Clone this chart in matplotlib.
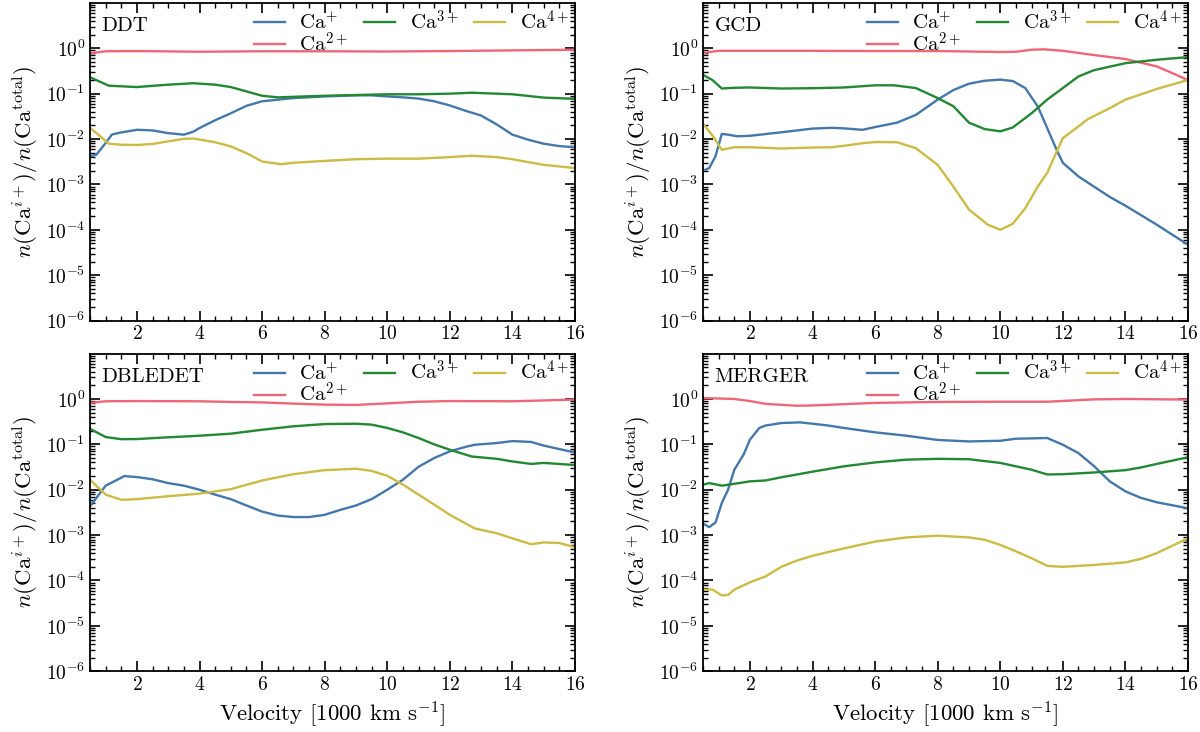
import numpy as np
import matplotlib
matplotlib.use("Agg")
import matplotlib.pyplot as plt
from matplotlib.ticker import LogLocator, MultipleLocator, NullFormatter

plt.rcParams['font.family'] = 'serif'
plt.rcParams['font.serif'] = ['cmr10']
plt.rcParams['mathtext.fontset'] = 'cm'
plt.rcParams['axes.formatter.use_mathtext'] = True
plt.rcParams['axes.linewidth'] = 1.3

# velocity grid [1000 km/s] for each model and ion
# DDT
ddt_v1 = [0.5, 0.7, 1.0, 1.2, 1.5, 2.0, 2.5, 3.0, 3.5, 3.8, 4.0, 4.5, 5.0, 5.5, 6.0, 7.0, 8.0, 9.0, 9.5, 10.0, 10.5, 11.0, 11.5, 12.0, 12.5, 13.0, 13.5, 14.0, 14.5, 15.0, 15.5, 16.0]
ddt_ca1 = [0.0042, 0.0045, 0.0082, 0.0126, 0.014, 0.016, 0.0155, 0.0135, 0.0125, 0.0145, 0.0175, 0.026, 0.037, 0.054, 0.068, 0.08, 0.087, 0.092, 0.092, 0.087, 0.083, 0.078, 0.068, 0.055, 0.042, 0.033, 0.021, 0.0125, 0.0097, 0.0079, 0.007, 0.0066]
ddt_v2 = [0.5, 1.0, 2.0, 4.0, 6.0, 8.0, 10.0, 12.0, 14.0, 16.0]
ddt_ca2 = [0.78, 0.86, 0.87, 0.84, 0.86, 0.86, 0.85, 0.87, 0.9, 0.93]
ddt_v3 = [0.5, 1.1, 2.0, 3.0, 3.8, 4.5, 5.0, 6.0, 6.5, 8.0, 10.0, 11.0, 12.0, 12.7, 14.0, 15.0, 16.0]
ddt_ca3 = [0.23, 0.15, 0.14, 0.158, 0.17, 0.158, 0.14, 0.09, 0.083, 0.09, 0.097, 0.097, 0.1, 0.105, 0.097, 0.082, 0.077]
ddt_v4 = [0.5, 0.8, 1.1, 1.5, 2.0, 2.5, 3.0, 3.5, 3.8, 4.5, 5.0, 5.5, 6.0, 6.6, 7.0, 8.0, 9.0, 10.0, 11.0, 12.0, 12.7, 13.5, 14.0, 14.5, 15.0, 16.0]
ddt_ca4 = [0.0175, 0.012, 0.0079, 0.0075, 0.0074, 0.0078, 0.0089, 0.0101, 0.0103, 0.0085, 0.0069, 0.0049, 0.0032, 0.0028, 0.003, 0.0033, 0.0036, 0.0037, 0.0037, 0.004, 0.0043, 0.004, 0.0036, 0.0031, 0.0027, 0.0023]

# GCD
gcd_v1 = [0.5, 0.7, 0.9, 1.1, 1.3, 1.6, 2.0, 3.0, 4.0, 4.6, 5.0, 5.6, 6.0, 6.7, 7.3, 8.0, 8.5, 9.0, 9.5, 10.0, 10.4, 10.8, 11.2, 11.5, 11.8, 12.0, 12.5, 13.0, 13.5, 14.0, 14.5, 15.0, 15.5, 16.0]
gcd_ca1 = [0.002, 0.0023, 0.0042, 0.013, 0.0125, 0.0115, 0.0118, 0.0141, 0.017, 0.0177, 0.0172, 0.016, 0.0184, 0.023, 0.034, 0.074, 0.12, 0.166, 0.193, 0.204, 0.19, 0.133, 0.052, 0.0175, 0.0058, 0.003, 0.0015, 0.00089, 0.00053, 0.00034, 0.00021, 0.00013, 0.000078, 0.000047]
gcd_v2 = [0.5, 1.0, 2.0, 4.0, 6.0, 8.0, 9.0, 10.0, 10.5, 11.0, 11.4, 12.0, 13.0, 14.0, 15.0, 16.0]
gcd_ca2 = [0.79, 0.88, 0.88, 0.88, 0.87, 0.87, 0.85, 0.83, 0.84, 0.93, 0.95, 0.88, 0.71, 0.58, 0.4, 0.2]
gcd_v3 = [0.5, 0.8, 1.1, 1.5, 2.0, 3.0, 4.0, 5.0, 6.0, 6.6, 7.3, 8.0, 8.5, 9.0, 9.5, 10.0, 10.4, 11.0, 11.5, 12.0, 12.5, 13.0, 14.0, 15.0, 16.0]
gcd_ca3 = [0.26, 0.2, 0.13, 0.135, 0.137, 0.13, 0.132, 0.137, 0.153, 0.153, 0.133, 0.08, 0.053, 0.023, 0.0166, 0.0148, 0.018, 0.037, 0.074, 0.133, 0.24, 0.33, 0.47, 0.56, 0.64]
gcd_v4 = [0.5, 0.8, 1.1, 1.5, 2.0, 3.0, 4.0, 4.6, 5.0, 5.6, 6.0, 6.7, 7.3, 8.0, 8.5, 9.0, 9.6, 10.0, 10.4, 10.8, 11.2, 11.5, 12.0, 12.5, 12.8, 13.5, 14.0, 15.0, 16.0]
gcd_ca4 = [0.0218, 0.012, 0.0058, 0.0066, 0.0066, 0.0062, 0.0065, 0.0066, 0.0071, 0.0081, 0.0086, 0.0085, 0.0063, 0.0027, 0.00090, 0.00028, 0.00013, 0.0001, 0.000136, 0.0003, 0.0009, 0.0018, 0.0105, 0.019, 0.0275, 0.048, 0.074, 0.127, 0.2]

# DBLEDET
dbl_v1 = [0.5, 1.0, 1.6, 2.0, 2.5, 3.0, 3.5, 4.0, 4.5, 5.0, 5.5, 6.0, 6.5, 7.0, 7.5, 8.0, 8.5, 9.0, 9.5, 10.0, 10.5, 11.0, 11.5, 12.0, 12.5, 12.8, 13.5, 14.0, 14.6, 15.0, 16.0]
dbl_ca1 = [0.0043, 0.0123, 0.02, 0.019, 0.017, 0.014, 0.0123, 0.01, 0.0078, 0.0062, 0.0045, 0.0033, 0.0027, 0.0025, 0.0025, 0.0028, 0.0036, 0.0045, 0.0062, 0.01, 0.0166, 0.032, 0.05, 0.07, 0.088, 0.098, 0.107, 0.118, 0.113, 0.094, 0.066]
dbl_v2 = [0.5, 1.0, 2.0, 4.0, 5.0, 6.0, 7.0, 8.0, 9.0, 10.0, 11.0, 12.0, 14.0, 16.0]
dbl_ca2 = [0.82, 0.89, 0.9, 0.89, 0.86, 0.84, 0.79, 0.75, 0.74, 0.8, 0.87, 0.9, 0.89, 0.97]
dbl_v3 = [0.5, 1.0, 1.5, 2.0, 3.0, 4.0, 5.0, 6.0, 7.0, 8.0, 9.0, 9.5, 10.0, 10.5, 11.0, 11.5, 12.0, 12.7, 13.5, 14.0, 14.6, 15.0, 16.0]
dbl_ca3 = [0.22, 0.145, 0.13, 0.131, 0.143, 0.155, 0.172, 0.21, 0.25, 0.28, 0.285, 0.272, 0.23, 0.184, 0.138, 0.1, 0.076, 0.054, 0.048, 0.042, 0.037, 0.039, 0.035]
dbl_v4 = [0.5, 1.0, 1.5, 2.0, 3.0, 4.0, 5.0, 6.0, 7.0, 8.0, 9.0, 9.5, 10.0, 10.5, 11.0, 11.5, 12.0, 12.8, 13.5, 14.0, 14.6, 15.0, 15.5, 16.0]
dbl_ca4 = [0.0166, 0.0078, 0.006, 0.0062, 0.0072, 0.0082, 0.0103, 0.016, 0.022, 0.027, 0.029, 0.026, 0.0203, 0.013, 0.0078, 0.0047, 0.0028, 0.0014, 0.0011, 0.00085, 0.00063, 0.00069, 0.00067, 0.00054]

# MERGER
mrg_v1 = [0.5, 0.7, 0.9, 1.1, 1.3, 1.5, 1.8, 2.0, 2.3, 2.5, 3.0, 3.6, 4.0, 4.5, 5.0, 6.0, 7.0, 8.0, 9.0, 10.0, 10.5, 11.5, 12.0, 12.5, 13.0, 13.5, 14.0, 14.5, 15.0, 16.0]
mrg_ca1 = [0.0018, 0.0015, 0.0019, 0.0051, 0.01, 0.0276, 0.06, 0.127, 0.23, 0.26, 0.295, 0.305, 0.285, 0.26, 0.23, 0.184, 0.155, 0.125, 0.116, 0.12, 0.133, 0.138, 0.098, 0.064, 0.033, 0.0153, 0.0092, 0.0066, 0.0053, 0.0039]
mrg_v2 = [0.5, 1.5, 2.0, 2.5, 3.5, 4.0, 6.0, 8.0, 10.0, 11.5, 13.0, 14.0, 16.0]
mrg_ca2 = [1.05, 1.0, 0.9, 0.78, 0.71, 0.72, 0.82, 0.86, 0.87, 0.87, 0.98, 1.0, 0.97]
mrg_v3 = [0.5, 0.7, 1.1, 1.5, 2.0, 2.5, 3.0, 4.0, 5.0, 6.0, 7.0, 8.0, 9.0, 10.0, 11.0, 11.5, 12.0, 13.0, 14.0, 14.5, 15.0, 16.0]
mrg_ca3 = [0.0129, 0.014, 0.0123, 0.0135, 0.0153, 0.016, 0.0188, 0.025, 0.0328, 0.04, 0.046, 0.048, 0.047, 0.039, 0.0276, 0.0217, 0.022, 0.024, 0.027, 0.031, 0.037, 0.052]
mrg_v4 = [0.5, 0.8, 1.1, 1.3, 1.5, 2.0, 2.5, 3.0, 3.5, 4.0, 5.0, 6.0, 7.0, 8.0, 9.0, 9.5, 10.0, 10.5, 11.0, 11.5, 12.0, 13.0, 14.0, 14.5, 15.0, 16.0]
mrg_ca4 = [0.000063, 0.000063, 0.000047, 0.000048, 0.000063, 0.000091, 0.000123, 0.0002, 0.000275, 0.00035, 0.00051, 0.00072, 0.00089, 0.00097, 0.00089, 0.00079, 0.00061, 0.00044, 0.00031, 0.00021, 0.0002, 0.00022, 0.00025, 0.0003, 0.0004, 0.00085]

models = ['DDT', 'GCD', 'DBLEDET', 'MERGER']
model_data = {
    'DDT': [(ddt_v1, ddt_ca1), (ddt_v2, ddt_ca2), (ddt_v3, ddt_ca3), (ddt_v4, ddt_ca4)],
    'GCD': [(gcd_v1, gcd_ca1), (gcd_v2, gcd_ca2), (gcd_v3, gcd_ca3), (gcd_v4, gcd_ca4)],
    'DBLEDET': [(dbl_v1, dbl_ca1), (dbl_v2, dbl_ca2), (dbl_v3, dbl_ca3), (dbl_v4, dbl_ca4)],
    'MERGER': [(mrg_v1, mrg_ca1), (mrg_v2, mrg_ca2), (mrg_v3, mrg_ca3), (mrg_v4, mrg_ca4)],
}
ion_labels = [r'Ca$^{+}$', r'Ca$^{2+}$', r'Ca$^{3+}$', r'Ca$^{4+}$']
colors = ['#4477AA', '#EE6677', '#228833', '#CCBB44']

fig, axes = plt.subplots(2, 2, figsize=(12, 7.32), dpi=100)
fig.subplots_adjust(left=0.075, right=0.99, top=0.996, bottom=0.083, hspace=0.104, wspace=0.264)

for ax, name in zip(axes.flat, models):
    for (v, frac), lab, c in zip(model_data[name], ion_labels, colors):
        ax.plot(v, frac, color=c, lw=1.7, label=lab)
    ax.set_yscale('log')
    ax.set_xlim(0.5, 16)
    ax.set_ylim(1e-6, 10)
    ax.set_yticks([1e-6, 1e-5, 1e-4, 1e-3, 1e-2, 1e-1, 1e0])
    ax.yaxis.set_minor_locator(LogLocator(base=10, subs=np.arange(2, 10)))
    ax.yaxis.set_minor_formatter(NullFormatter())
    ax.xaxis.set_major_locator(MultipleLocator(2))
    ax.xaxis.set_minor_locator(MultipleLocator(0.5))
    ax.tick_params(which='both', direction='in', top=True, right=True, labelsize=14)
    ax.tick_params(which='major', length=7, width=1.2)
    ax.tick_params(which='minor', length=3.5, width=1.0)
    ax.set_ylabel(r'$n(\mathrm{Ca}^{i+})/n(\mathrm{Ca}^{\mathrm{total}})$', fontsize=16.5)
    ax.text(0.024, 0.955, name, transform=ax.transAxes, fontsize=15, va='top', ha='left')
    ax.legend(loc='upper right', ncol=3, frameon=False, fontsize=15,
              labelspacing=-0.1, columnspacing=0.75, handlelength=1.5,
              handletextpad=0.7, borderaxespad=0.2, borderpad=0.1)

for ax in axes[1]:
    ax.set_xlabel(r'Velocity [1000 km s$^{-1}$]', fontsize=16.5)

fig.savefig('out.png', dpi=100)
